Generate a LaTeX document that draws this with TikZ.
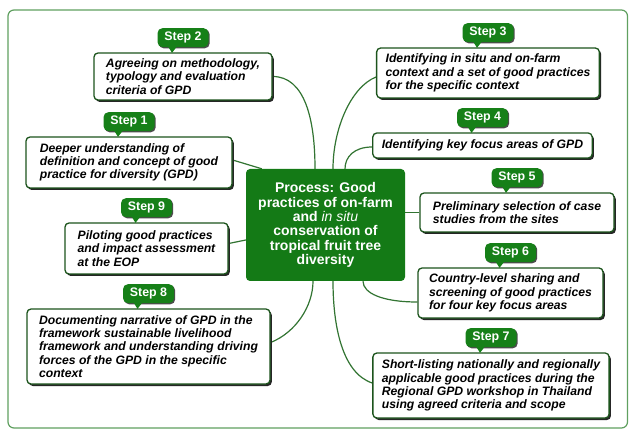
\documentclass[tikz,border=0pt]{standalone}
\usepackage{fontspec}
\setmainfont{Liberation Sans}
\usetikzlibrary{shadows,calc,backgrounds}
\definecolor{tabgreen}{RGB}{22,128,24}
\definecolor{hubgreen}{RGB}{20,122,22}
\definecolor{cardline}{RGB}{28,84,28}
\definecolor{linkgreen}{RGB}{50,116,50}
\definecolor{framegreen}{RGB}{96,160,96}

% card: name, x, y, width, height, step number, text
\newcommand\stepcard[7]{%
  \node[card, minimum width=#4pt, minimum height=#5pt] (#1) at (#2,#3) {#7};
  \node[tab, anchor=south] (t#1) at ($(#1.north)+(0,-5)$) {Step #6};
  \fill[tabgreen] ($(t#1.south)+(-15,-1)$) -- ($(t#1.south)+(-6,-1)$)
     -- ($(t#1.south)+(-11,5.5)$) -- cycle;
}

\begin{document}
\begin{tikzpicture}[x=1pt,y=-1pt,
  card/.style={draw=cardline, line width=1.3pt, fill=white, rounded corners=4pt,
    drop shadow={shadow xshift=1.8pt,shadow yshift=-2pt,fill=black!85,opacity=1},
    inner xsep=9pt, inner ysep=0pt, align=left,
    font=\fontsize{12.2}{13.3}\selectfont\bfseries\itshape},
  tab/.style={fill=tabgreen, rounded corners=5pt, text=white,
    minimum width=51pt, minimum height=19pt, inner sep=0pt,
    font=\fontsize{12.4}{14}\selectfont\bfseries,
    drop shadow={shadow xshift=1.2pt,shadow yshift=-1.2pt,fill=black!70,opacity=1}},
  link/.style={draw=linkgreen, line width=1.2pt},
  hub/.style={fill=hubgreen, rounded corners=4pt, text=white, align=center,
    font=\fontsize{14}{14.3}\selectfont\bfseries,
    minimum width=159pt, minimum height=112pt, inner sep=0pt}
]
\useasboundingbox (0,0) rectangle (629,430);
\begin{pgfonlayer}{background}
  \fill[white] (0,0) rectangle (629,430);
  \draw[framegreen, line width=1.2pt, rounded corners=6pt] (8,10) rectangle (627.5,428);
\end{pgfonlayer}

% central topic
\node[hub] (hub) at (325.5,225) {Process: Good\\practices of on-farm\\and {\mdseries\itshape in situ}\\conservation of\\tropical fruit tree\\diversity};

% left branch
\stepcard{s2}{183}{76.5}{178}{47}{2}{Agreeing on methodology,\\typology and evaluation\\criteria of GPD}
\stepcard{s1}{129}{162.5}{206}{51}{1}{Deeper understanding of\\definition and concept of good\\practice for diversity (GPD)}
\stepcard{s9}{146.5}{248.5}{163}{51}{9}{Piloting good practices\\and impact assessment\\at the EOP}
\stepcard{s8}{148.5}{346.5}{243}{75}{8}{Documenting narrative of GPD in the\\framework sustainable livelihood\\framework and understanding driving\\forces of the GPD in the specific\\context}

% right branch
\stepcard{s3}{488}{73}{222}{50}{3}{Identifying in situ and on-farm\\context and a set of good practices\\for the specific context}
\stepcard{s4}{482.5}{145.5}{219}{25}{4}{Identifying key focus areas of GPD}
\stepcard{s5}{517}{212.5}{194}{39}{5}{Preliminary selection of case\\studies from the sites}
\stepcard{s6}{510.5}{293}{185}{50}{6}{Country-level sharing and\\screening of good practices\\for four key focus areas}
\stepcard{s7}{491}{385.5}{232}{65}{7}{Short-listing nationally and regionally\\applicable good practices during the\\Regional GPD workshop in Thailand\\using agreed criteria and scope}

% connectors from the cards to the central topic
\begin{pgfonlayer}{background}
  \draw[link] (s2.east) .. controls +(32,0) and +(0,-50) .. ($(hub.north)+(-10.5,0)$);
  \draw[link] ($(s1.east)+(0,-2.5)$) -- ($(hub.north west)+(16,0)$);
  \draw[link] ($(s9.east)+(0,-5)$) -- ($(hub.west)+(0,15)$);
  \draw[link] ($(s8.east)+(0,-4)$) .. controls +(25,-10) and +(0,25) .. ($(hub.south)+(-12.5,0)$);
  \draw[link] ($(s3.west)+(0,4)$) .. controls +(-25,10) and +(0,-40) .. ($(hub.north)+(7.5,0)$);
  \draw[link] ($(s4.west)+(0,1.5)$) .. controls +(-18,0) and +(0,-12) .. ($(hub.north)+(19.5,0)$);
  \draw[link] (s5.west) -- (s5.west -| hub.east);
  \draw[link] ($(s6.west)+(0,9)$) .. controls +(-35,0) and +(0,12) .. ($(hub.south)+(37.5,0)$);
  \draw[link] ($(s7.west)+(0,-2.5)$) .. controls +(-30,-10) and +(0,45) .. ($(hub.south)+(7.5,0)$);
\end{pgfonlayer}
\end{tikzpicture}
\end{document}
